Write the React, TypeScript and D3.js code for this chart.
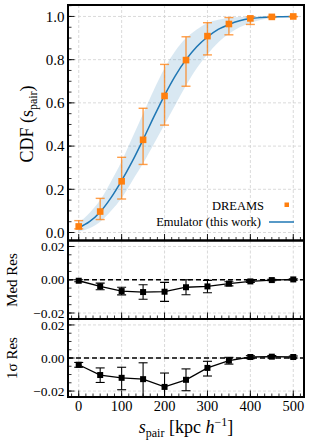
import * as d3 from 'd3';

// DREAMS measurements
const sPair = [0, 50, 100, 150, 200, 250, 300, 350, 400, 450, 500];
const dreamsCdf = [0.028, 0.097, 0.237, 0.429, 0.632, 0.798, 0.909, 0.965, 0.991, 0.998, 1.0];
const dreamsLo = [0.017, 0.06, 0.155, 0.315, 0.497, 0.677, 0.822, 0.915, 0.963, 0.995, 0.999];
const dreamsHi = [0.055, 0.158, 0.348, 0.575, 0.778, 0.906, 0.971, 0.995, 0.998, 1.0, 1.0];

// emulator median and 1 sigma band
const emuX = [0, 25, 50, 75, 100, 125, 150, 175, 200, 225, 250, 275, 300, 325, 350, 375, 400, 425, 450, 475, 500];
const emuMed = [0.022, 0.05, 0.095, 0.16, 0.24, 0.33, 0.43, 0.535, 0.635, 0.725, 0.8, 0.86, 0.905, 0.94, 0.963, 0.98, 0.99, 0.995, 0.998, 0.999, 1.0];
const emuLo = [0.005, 0.02, 0.05, 0.1, 0.16, 0.24, 0.32, 0.41, 0.5, 0.59, 0.68, 0.76, 0.825, 0.88, 0.92, 0.95, 0.97, 0.985, 0.993, 0.997, 0.999];
const emuHi = [0.045, 0.09, 0.15, 0.235, 0.33, 0.44, 0.55, 0.66, 0.76, 0.84, 0.9, 0.94, 0.97, 0.985, 0.993, 0.997, 0.999, 1.0, 1.0, 1.0, 1.0];

// residuals
const medRes = [-0.0006, -0.004, -0.0068, -0.0074, -0.0072, -0.0045, -0.004, -0.0023, -0.001, -0.0002, 0.0002];
const medLo = [-0.0012, -0.006, -0.0091, -0.0117, -0.013, -0.009, -0.0078, -0.0037, -0.0016, -0.0006, -0.0002];
const medHi = [0.0, -0.002, -0.0045, -0.003, -0.0016, 0.0, -0.0004, -0.0012, -0.0004, 0.0002, 0.0006];
const sigRes = [-0.0041, -0.0103, -0.012, -0.0128, -0.0175, -0.0132, -0.006, -0.0016, 0.0006, 0.0008, 0.0006];
const sigLo = [-0.0056, -0.0148, -0.0192, -0.0233, -0.0239, -0.0198, -0.0109, -0.0037, -0.0004, 0.0, 0.0];
const sigHi = [-0.0027, -0.006, -0.0056, -0.0029, -0.0091, -0.0066, -0.002, 0.0004, 0.0014, 0.0015, 0.0012];

const xTicks = [0, 100, 200, 300, 400, 500];
const mainTicks = [0, 0.2, 0.4, 0.6, 0.8, 1.0];
const resTicks = [-0.02, 0, 0.02];

const W = 312;
const H = 447;
const left = 68;
const right = 304;
const font = 'Liberation Serif, serif';
const orange = '#ff7f0e';
const blue = '#1f77b4';

const x = d3.scaleLinear().domain([-25, 525]).range([left, right]);
const yMain = d3.scaleLinear().domain([-0.037, 1.053]).range([240.5, 5]);
const yMed = d3.scaleLinear().domain([-0.0236, 0.0236]).range([319, 240.5]);
const ySig = d3.scaleLinear().domain([-0.0236, 0.0236]).range([397, 319]);

const xMinor = d3.range(-1, 32).map((i) => (i * 100) / 6).filter((v) => v > -25 && v < 525);

const fmt2 = (v: number) => (v < 0 ? '\u2212' : '') + Math.abs(v).toFixed(2);
const fmt1 = (v: number) => v.toFixed(1);

function Panel({
  y,
  ticks,
  minorStep,
  fmt,
  fs,
  showX,
}: {
  y: d3.ScaleLinear<number, number>;
  ticks: number[];
  minorStep: number;
  fmt: (v: number) => string;
  fs: number;
  showX?: boolean;
}) {
  const [d0, d1] = y.domain();
  const minor = d3
    .range(Math.ceil(d0 / minorStep), Math.floor(d1 / minorStep) + 1)
    .map((i) => i * minorStep);
  const [bot, top] = y.range();
  return (
    <g>
      {xTicks.map((t) => (
        <line key={'gx' + t} x1={x(t)} x2={x(t)} y1={top} y2={bot} stroke="#d0d0d0" strokeWidth={0.8} strokeDasharray="3,2" />
      ))}
      {ticks.map((t) => (
        <line key={'gy' + t} x1={left} x2={right} y1={y(t)} y2={y(t)} stroke="#d0d0d0" strokeWidth={0.8} strokeDasharray="3,2" />
      ))}
      {xMinor.map((t) => (
        <line key={'mx' + t} x1={x(t)} x2={x(t)} y1={bot} y2={bot - 3.5} stroke="#000" strokeWidth={0.8} />
      ))}
      {xTicks.map((t) => (
        <line key={'tx' + t} x1={x(t)} x2={x(t)} y1={bot} y2={bot - 6.5} stroke="#000" strokeWidth={0.9} />
      ))}
      {minor.map((t) => (
        <line key={'my' + t} x1={left} x2={left + 3.5} y1={y(t)} y2={y(t)} stroke="#000" strokeWidth={0.8} />
      ))}
      {ticks.map((t) => (
        <g key={'ty' + t}>
          <line x1={left} x2={left + 6.5} y1={y(t)} y2={y(t)} stroke="#000" strokeWidth={0.9} />
          <text x={left - 3.5} y={y(t)} dy="0.35em" textAnchor="end" fontSize={fs} fontFamily={font}>
            {fmt(t)}
          </text>
        </g>
      ))}
      {showX &&
        xTicks.map((t) => (
          <text key={'lx' + t} x={x(t)} y={bot + 14} textAnchor="middle" fontSize={14.5} fontFamily={font}>
            {t}
          </text>
        ))}
    </g>
  );
}

function Residual({
  y,
  vals,
  lo,
  hi,
}: {
  y: d3.ScaleLinear<number, number>;
  vals: number[];
  lo: number[];
  hi: number[];
}) {
  const line = d3
    .line<number>()
    .x((_, i) => x(sPair[i]))
    .y((d) => y(d));
  const [bot, top] = y.range();
  return (
    <g>
      <defs>
        <clipPath id={'clip' + top}>
          <rect x={left} y={top} width={right - left} height={bot - top} />
        </clipPath>
      </defs>
      <line x1={left} x2={right} y1={y(0)} y2={y(0)} stroke="#000" strokeWidth={1.3} strokeDasharray="5,3" />
      <g clipPath={`url(#clip${top})`}>
        {sPair.map((s, i) => (
          <g key={s} stroke="#000" strokeWidth={1.1}>
            <line x1={x(s)} x2={x(s)} y1={y(lo[i])} y2={y(hi[i])} />
            <line x1={x(s) - 4.5} x2={x(s) + 4.5} y1={y(lo[i])} y2={y(lo[i])} />
            <line x1={x(s) - 4.5} x2={x(s) + 4.5} y1={y(hi[i])} y2={y(hi[i])} />
          </g>
        ))}
        <path d={line(vals) ?? ''} fill="none" stroke="#000" strokeWidth={1.3} />
        {sPair.map((s, i) => (
          <rect key={'p' + s} x={x(s) - 3} y={y(vals[i]) - 3} width={6} height={6} fill="#000" />
        ))}
      </g>
    </g>
  );
}

export default function App() {
  const area = d3
    .area<number>()
    .x((_, i) => x(emuX[i]))
    .y0((_, i) => yMain(emuLo[i]))
    .y1((_, i) => yMain(emuHi[i]))
    .curve(d3.curveMonotoneX);
  const medLine = d3
    .line<number>()
    .x((_, i) => x(emuX[i]))
    .y((d) => yMain(d))
    .curve(d3.curveMonotoneX);

  return (
    <svg width={W} height={H} style={{ position: 'absolute', left: 0, top: 0, background: '#fff' }}>
      <Panel y={yMain} ticks={mainTicks} minorStep={0.05} fmt={fmt1} fs={15} />
      <Panel y={yMed} ticks={resTicks} minorStep={0.005} fmt={fmt2} fs={13.5} />
      <Panel y={ySig} ticks={resTicks} minorStep={0.005} fmt={fmt2} fs={13.5} showX />

      {/* main panel */}
      <path d={area(emuMed) ?? ''} fill={blue} fillOpacity={0.17} />
      <path d={medLine(emuMed) ?? ''} fill="none" stroke={blue} strokeWidth={1.5} />
      {sPair.map((s, i) => (
        <g key={s} stroke={orange} strokeOpacity={0.75} strokeWidth={1.4}>
          <line x1={x(s)} x2={x(s)} y1={yMain(dreamsLo[i])} y2={yMain(dreamsHi[i])} />
          <line x1={x(s) - 4.5} x2={x(s) + 4.5} y1={yMain(dreamsLo[i])} y2={yMain(dreamsLo[i])} />
          <line x1={x(s) - 4.5} x2={x(s) + 4.5} y1={yMain(dreamsHi[i])} y2={yMain(dreamsHi[i])} />
        </g>
      ))}
      {sPair.map((s, i) => (
        <rect key={'m' + s} x={x(s) - 3.3} y={yMain(dreamsCdf[i]) - 3.3} width={6.6} height={6.6} fill={orange} />
      ))}

      {/* legend */}
      <text x={264} y={210} textAnchor="end" fontSize={12.5} fontFamily={font}>DREAMS</text>
      <rect x={284.5} y={202.5} width={4.5} height={4.5} fill={orange} />
      <text x={261} y={226} textAnchor="end" fontSize={12.5} fontFamily={font}>Emulator (this work)</text>
      <line x1={269} x2={294} y1={222} y2={222} stroke={blue} strokeWidth={1.5} />

      <Residual y={yMed} vals={medRes} lo={medLo} hi={medHi} />
      <Residual y={ySig} vals={sigRes} lo={sigLo} hi={sigHi} />

      {/* frames */}
      {[yMain, yMed, ySig].map((y, i) => {
        const [b, t] = y.range();
        return <rect key={i} x={left} y={t} width={right - left} height={b - t} fill="none" stroke="#000" strokeWidth={2} />;
      })}

      {/* axis labels */}
      <text transform="translate(33,124) rotate(-90)" textAnchor="middle" fontSize={18} fontFamily={font}>
        CDF (s<tspan fontSize={12} dy={4}>pair</tspan><tspan dy={-4}>)</tspan>
      </text>
      <text transform="translate(17,280) rotate(-90)" textAnchor="middle" fontSize={15} fontFamily={font}>Med Res</text>
      <text transform="translate(17,358) rotate(-90)" textAnchor="middle" fontSize={15} fontFamily={font}>1σ Res</text>
      <text x={186} y={433} textAnchor="middle" fontSize={18} fontFamily={font}>
        <tspan fontStyle="italic">s</tspan>
        <tspan fontSize={12} dy={4}>pair</tspan>
        <tspan dy={-4}> [kpc </tspan>
        <tspan fontStyle="italic">h</tspan>
        <tspan fontSize={12} dy={-7}>−1</tspan>
        <tspan dy={7}>]</tspan>
      </text>
    </svg>
  );
}
